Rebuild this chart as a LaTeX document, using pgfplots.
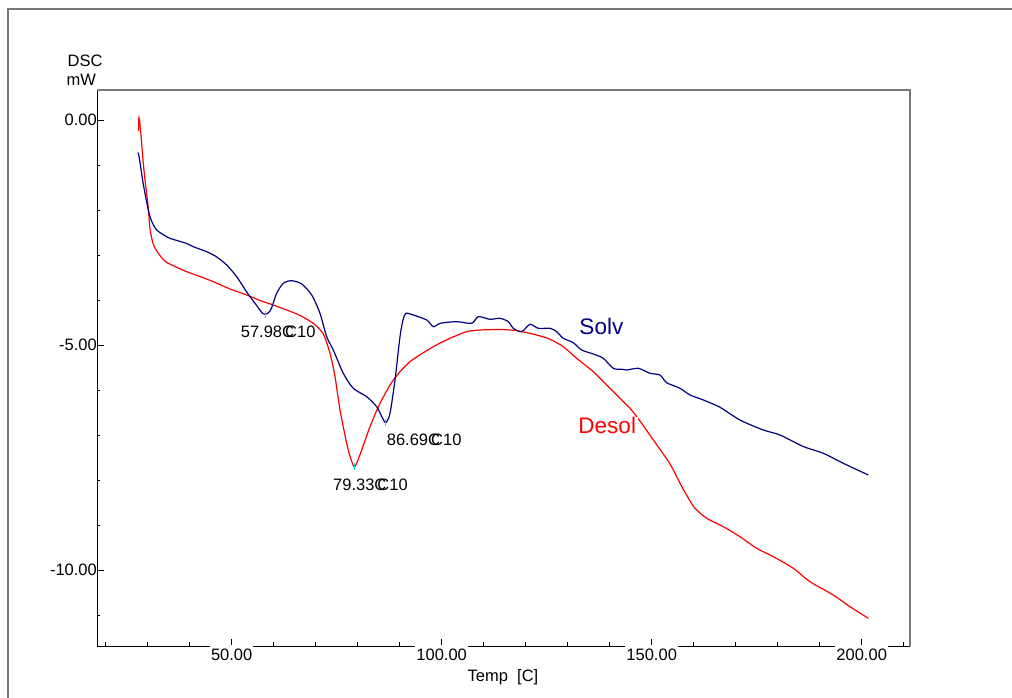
\documentclass[border=0pt]{standalone}
\usepackage{pgfplots}
\pgfplotsset{compat=1.18}
\usepackage{fontspec}
\setmainfont{Liberation Sans}
\definecolor{solv}{RGB}{0,0,128}
\definecolor{desol}{RGB}{255,0,0}
\definecolor{peakmark}{RGB}{0,225,235}
\definecolor{framegray}{RGB}{120,120,120}

% DSC traces: temperature [C], heat flow [mW]
\pgfplotstableread{
T v
27.81 -0.244
27.93 0.056
28.40 -0.333
28.88 -0.889
29.36 -1.333
30.07 -1.889
30.55 -2.420
31.33 -2.760
32.52 -2.962
33.71 -3.100
34.52 -3.165
36.50 -3.256
39.29 -3.371
42.45 -3.478
45.62 -3.593
49.60 -3.756
53.57 -3.889
56.74 -4.011
59.90 -4.111
63.10 -4.222
66.26 -4.344
69.43 -4.518
71.81 -4.756
73.40 -5.184
74.60 -5.704
75.79 -6.444
77.38 -7.184
78.40 -7.540
79.33 -7.704
80.95 -7.333
82.93 -6.816
85.31 -6.296
88.48 -5.778
92.45 -5.371
98.00 -5.038
101.98 -4.851
105.95 -4.704
109.12 -4.667
113.88 -4.656
117.86 -4.682
122.62 -4.778
125.79 -4.873
128.95 -5.038
132.14 -5.296
136.10 -5.593
139.29 -5.889
141.67 -6.111
144.83 -6.407
147.21 -6.689
150.38 -7.111
154.36 -7.644
156.74 -8.073
158.71 -8.400
160.31 -8.629
163.10 -8.851
167.05 -9.038
171.02 -9.260
175.00 -9.518
178.95 -9.704
183.71 -9.962
187.69 -10.260
193.24 -10.556
197.21 -10.816
201.57 -11.073
}\desol

\pgfplotstableread{
T v
27.69 -0.722
28.00 -0.844
28.95 -1.422
30.14 -2.000
31.02 -2.267
32.14 -2.444
33.64 -2.544
35.31 -2.629
39.29 -2.744
40.86 -2.816
44.05 -2.927
46.26 -3.033
48.81 -3.222
51.19 -3.482
53.17 -3.767
54.36 -3.927
56.33 -4.170
57.20 -4.285
57.98 -4.318
58.80 -4.280
59.52 -4.170
60.71 -3.851
62.29 -3.629
64.29 -3.571
66.67 -3.644
69.05 -3.889
71.02 -4.296
72.62 -4.816
74.19 -5.111
76.57 -5.629
78.95 -5.962
82.14 -6.149
84.52 -6.371
85.79 -6.600
86.69 -6.727
87.69 -6.518
88.88 -5.778
90.07 -4.816
90.79 -4.444
91.50 -4.296
93.24 -4.333
96.43 -4.444
98.00 -4.593
99.60 -4.518
103.57 -4.482
107.14 -4.518
108.71 -4.371
111.50 -4.429
113.88 -4.407
115.86 -4.482
117.05 -4.629
119.05 -4.704
121.02 -4.540
123.00 -4.629
125.79 -4.629
127.38 -4.704
128.95 -4.851
131.33 -4.949
133.33 -5.111
136.10 -5.200
138.48 -5.296
140.86 -5.518
142.86 -5.540
144.05 -5.556
146.81 -5.518
149.60 -5.629
151.98 -5.667
153.57 -5.838
156.74 -5.962
159.12 -6.111
162.29 -6.222
166.26 -6.384
171.02 -6.667
176.57 -6.889
180.55 -7.000
186.10 -7.256
190.86 -7.407
195.62 -7.629
201.57 -7.889
}\solv

\newcommand{\lbl}{\fontsize{16.5}{18}\selectfont}

\begin{document}
\begin{tikzpicture}[x=1pt,y=1pt]
\path[use as bounding box] (0,0) rectangle (1012,698);
% outer frame
\draw[framegray, line width=2pt] (8,0) -- (8,689) -- (1012,689);

\begin{axis}[
  at={(97pt,52pt)}, anchor=south west,
  scale only axis, width=813pt, height=556pt,
  xmin=17.93, xmax=211.5, ymin=-11.689, ymax=0.667,
  axis x line*=bottom, axis y line*=left,
  axis line style={-, black, line width=0.9pt},
  tick align=inside,
  major tick length=7pt, minor tick length=3.5pt,
  every tick/.style={black, line width=0.8pt},
  xtick={50,100,150,200},
  xticklabels={50.00,100.00,150.00,200.00},
  minor xtick={20,30,40,60,70,80,90,110,120,130,140,160,170,180,190,210},
  ytick={-10,-5,0},
  yticklabels={-10.00,-5.00,0.00},
  minor ytick={-11,-9,-8,-7,-6,-4,-3,-2,-1},
  tick label style={font=\lbl},
  xticklabel style={anchor=base, fill=white, inner xsep=1pt, inner ysep=0pt,
    text height=15.5pt, text depth=0pt, yshift=-15pt},
  yticklabel style={anchor=east, inner sep=0pt},
  clip=false,
]
\draw[framegray, line width=2pt] (rel axis cs:0,1) -- (rel axis cs:1,1) -- (rel axis cs:1,0);

\addplot[desol, line width=1.2pt, smooth, tension=0.45] table[x=T, y=v] {\desol};
\addplot[solv, line width=1.2pt, smooth, tension=0.45] table[x=T, y=v] {\solv};

% peak markers
\addplot[only marks, mark=|, mark size=3.5pt, peakmark, mark options={line width=0.8pt}]
  coordinates {(57.98,-4.318) (86.69,-6.727) (79.33,-7.704)};

\node[anchor=base west, inner sep=0pt, font=\lbl] at (axis cs:52.14,-4.844) {57.98\rlap{C}\kern3pt C10};
\node[anchor=base west, inner sep=0pt, font=\lbl] at (axis cs:86.90,-7.238) {86.69\rlap{C}\kern3pt C10};
\node[anchor=base west, inner sep=0pt, font=\lbl] at (axis cs:74.12,-8.238) {79.33\rlap{C}\kern3pt C10};

\node[anchor=base west, inner sep=0pt, text=solv, font=\fontsize{22.5}{24}\selectfont] at (axis cs:132.76,-4.756) {Solv};
\node[anchor=base west, inner xsep=2pt, inner ysep=0pt, xshift=-2pt, fill=white, text=desol, font=\fontsize{22.5}{24}\selectfont] at (axis cs:132.52,-6.96) {Desol};
\end{axis}

\node[anchor=base west, inner sep=0pt, font=\lbl] at (67.5,631.3) {DSC};
\node[anchor=base west, inner sep=0pt, font=\lbl] at (66.5,612.3) {mW};
\node[anchor=base, inner sep=0pt, font=\lbl] at (503,16.3) {Temp\ \ [C]};
\end{tikzpicture}
\end{document}
